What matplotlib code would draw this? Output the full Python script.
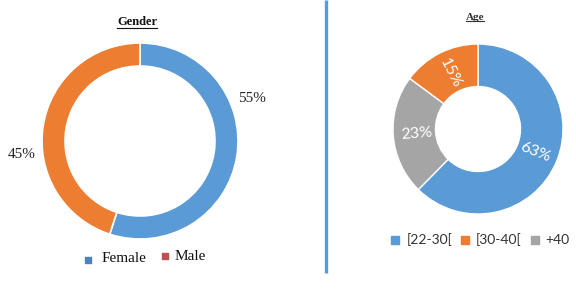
import matplotlib
matplotlib.use("Agg")
import matplotlib.pyplot as plt
import numpy as np

# Data
gender_labels = ["Female", "Male"]
gender_values = [55, 45]
age_labels = ["[22-30[", "[30-40[", "+40"]
age_values = [63, 15, 23]

BLUE = "#5B9BD5"
ORANGE = "#ED7D31"
GRAY = "#A5A5A5"
MALE_LEG = "#C0504D"

W, H = 576, 289
fig = plt.figure(figsize=(W / 100, H / 100), dpi=100)
ax = fig.add_axes([0, 0, 1, 1])

def Y(y):
    return H - y

# Gender donut
gc = (140, Y(141))
gr = 98
ax.pie(gender_values, colors=[BLUE, ORANGE], startangle=90, counterclock=False,
       center=gc, radius=gr, wedgeprops=dict(width=23, edgecolor="white", linewidth=1.2))
serif = "Liberation Serif"
ax.text(252, Y(98), f"{gender_values[0]}%", fontsize=11, family=serif, color="#222222",
        ha="center", va="center")
ax.text(22, Y(155), f"{gender_values[1]}%", fontsize=11, family=serif, color="#222222",
        ha="center", va="center")

# Age donut: clockwise order blue, gray, orange
ac = (478, Y(129))
ar = 85
order = [0, 2, 1]
vals = [age_values[i] for i in order]
cols = [[BLUE, ORANGE, GRAY][i] for i in order]
wedges, _ = ax.pie(vals, colors=cols, startangle=90, counterclock=False,
                   center=ac, radius=ar,
                   wedgeprops=dict(width=ar - 42.5, edgecolor="white", linewidth=1.0))
total = sum(vals)
start = 90.0
rlab = 62
for v in vals:
    span = 360.0 * v / total
    mid = start - span / 2
    start -= span
    th = np.deg2rad(mid)
    x = ac[0] + rlab * np.cos(th)
    y = ac[1] + rlab * np.sin(th)
    rot = mid % 360
    if rot > 90 and rot <= 270:
        rot -= 180
    if rot > 270:
        rot -= 360
    ax.text(x, y, f"{v}%", fontsize=11.5, family="Lato", color="white",
            ha="center", va="center", rotation=rot, rotation_mode="anchor")

ax.set_xlim(0, W)
ax.set_ylim(0, H)
ax.set_aspect("auto")
ax.axis("off")

# Titles
t1 = ax.text(137, Y(22), "Gender", fontsize=9, family=serif, weight="bold",
             ha="center", va="center", color="#111111")
t2 = ax.text(475, Y(17), "Age", fontsize=8, family=serif, weight="bold",
             ha="center", va="center", color="#333333")

# Vertical separator
ax.plot([325.5, 325.5], [Y(0), Y(273)], color=BLUE, lw=2.4, solid_capstyle="butt")

# Gender legend
ax.scatter([88], [Y(260)], marker="s", s=16, color="#4F81BD")
ax.text(102, Y(259), gender_labels[0], fontsize=11, family=serif, ha="left", va="center", color="#111111")
ax.scatter([165], [Y(256)], marker="s", s=16, color=MALE_LEG)
ax.text(175, Y(256), gender_labels[1], fontsize=11, family=serif, ha="left", va="center", color="#111111")

# Age legend
leg_x = [(395, 407), (465, 476), (535, 545)]
leg_cols = [BLUE, ORANGE, GRAY]
for (mx, tx), lab, c in zip(leg_x, age_labels, leg_cols):
    ax.scatter([mx], [Y(240)], marker="s", s=34, color=c)
    ax.text(tx, Y(240), lab, fontsize=10, family="Lato", ha="left", va="center", color="#333333")

# Underlines for titles
fig.canvas.draw()
r = fig.canvas.get_renderer()
inv = ax.transData.inverted()
for t in (t1, t2):
    bb = t.get_window_extent(r)
    (x0, y0), (x1, y1) = inv.transform([(bb.x0, bb.y0), (bb.x1, bb.y1)])
    ax.plot([x0, x1], [y0 + 0.5, y0 + 0.5], color=t.get_color(), lw=0.8)

fig.savefig("out.png", dpi=100)
